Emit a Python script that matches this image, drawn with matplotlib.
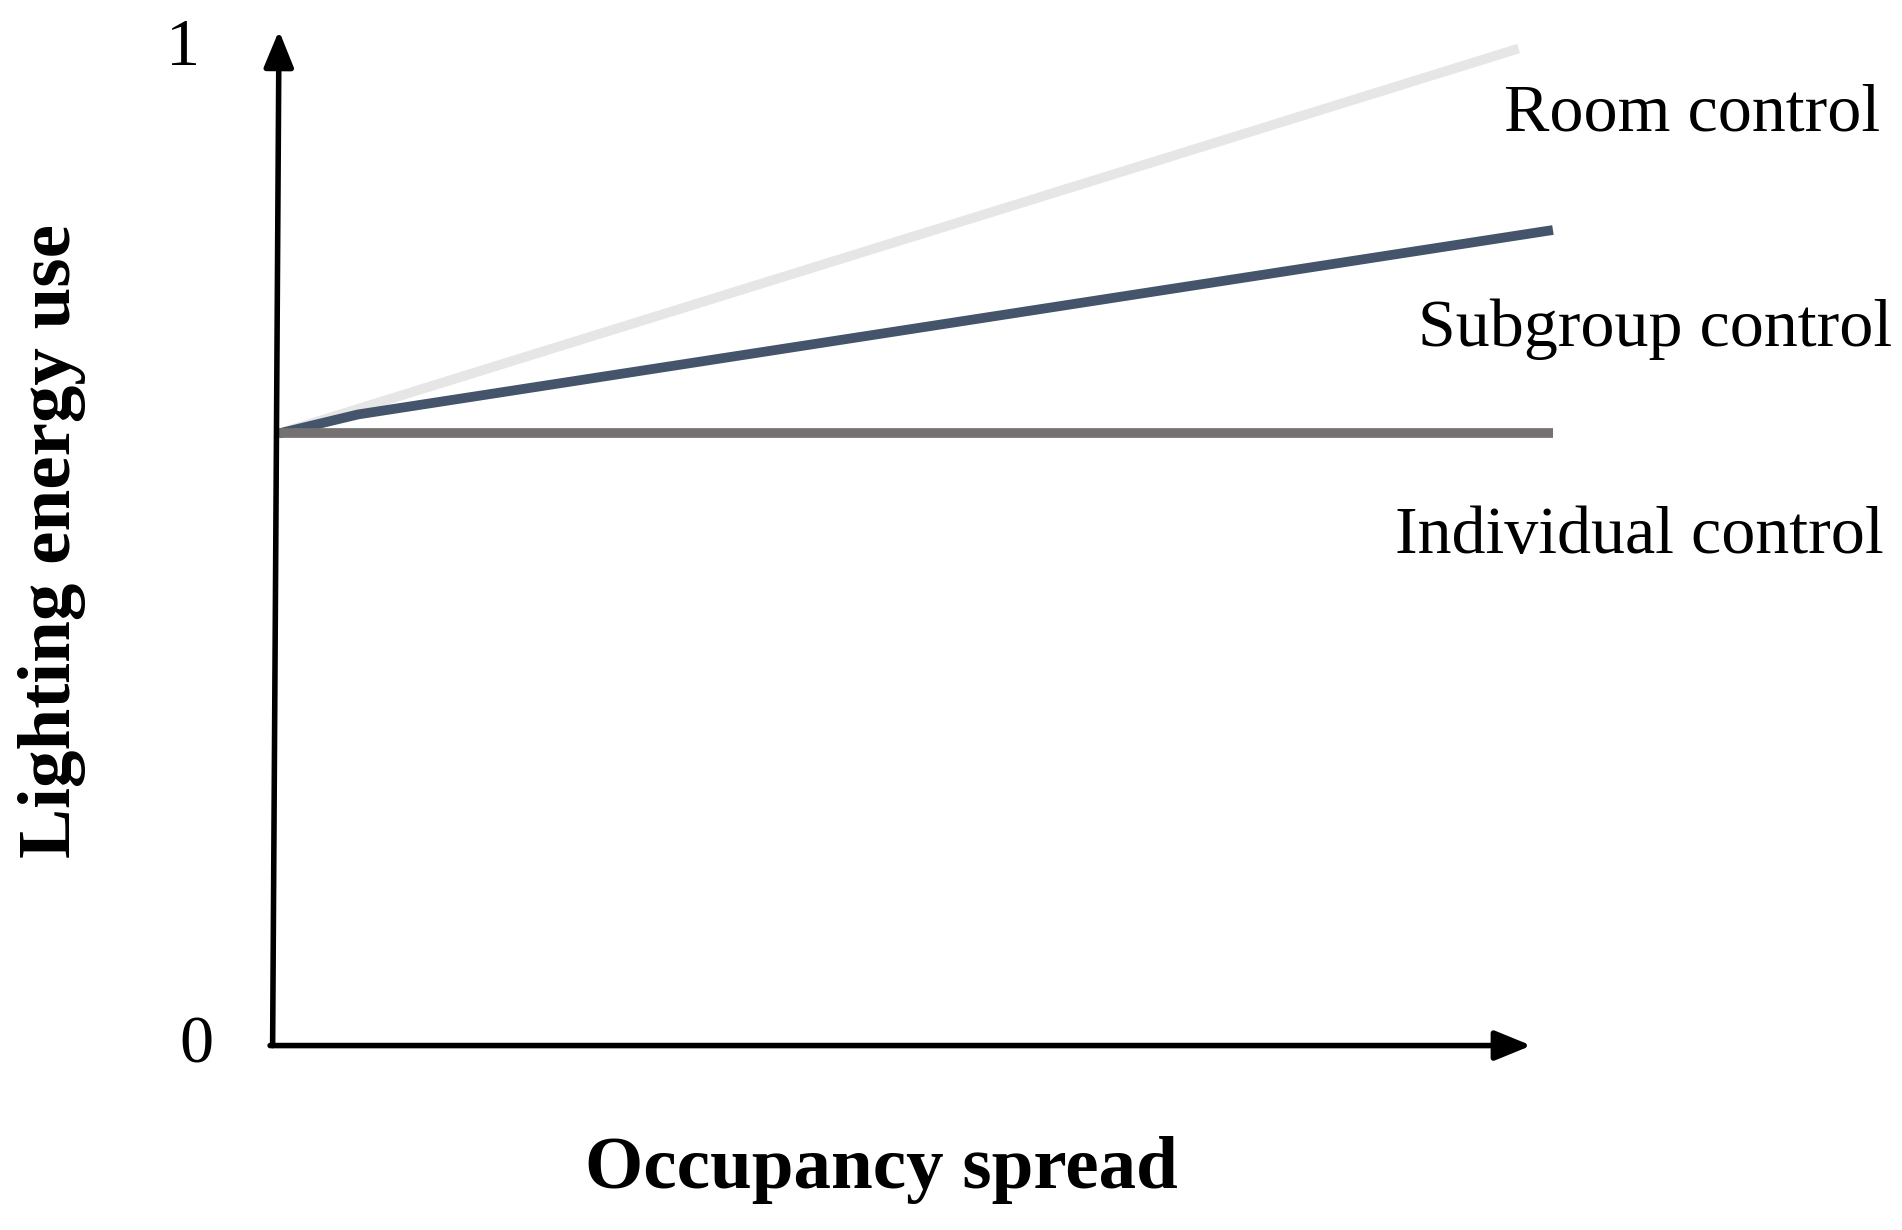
import matplotlib
matplotlib.use("Agg")
import matplotlib.pyplot as plt

# data (normalised: x = occupancy spread 0..1, y = lighting energy use 0..1)
individual_x = [0.0, 1.0]
individual_y = [0.614, 0.614]
subgroup_x = [0.0, 0.062, 1.0]
subgroup_y = [0.614, 0.633, 0.818]
room_x = [0.0, 0.973]
room_y = [0.614, 1.0]
labels = ["Room control", "Subgroup control", "Individual control"]

plt.rcParams['font.family'] = ['Liberation Serif', 'DejaVu Serif']
fig = plt.figure(figsize=(19.02, 12.30), dpi=100)
ax = fig.add_axes([0, 0, 1, 1])
ax.set_xlim(-0.219, 1.274)
ax.set_ylim(-0.185, 1.0487)
ax.axis('off')

ax.plot(room_x, room_y, color='#e6e6e6', lw=7, solid_capstyle='butt')
ax.plot(subgroup_x, subgroup_y, color='#44546a', lw=7, solid_capstyle='butt')
ax.plot(individual_x, individual_y, color='#767171', lw=7, solid_capstyle='butt')

arrow = dict(arrowstyle='-|>,head_length=2.2,head_width=0.9', color='black', lw=4, shrinkA=0, shrinkB=0)
ax.annotate('', xy=(0.0, 1.018), xytext=(-0.005, 0.0), arrowprops=arrow)
ax.annotate('', xy=(0.983, 0.0), xytext=(-0.007, 0.0), arrowprops=arrow)

ax.text(-0.075, 1.0, '1', fontsize=49, ha='center', va='center')
ax.text(-0.065, 0.0, '0', fontsize=49, ha='center', va='center')

ax.text(1.257, 0.934, labels[0], fontsize=49, ha='right', va='center')
ax.text(1.266, 0.718, labels[1], fontsize=49, ha='right', va='center')
ax.text(1.260, 0.511, labels[2], fontsize=49, ha='right', va='center')

ax.text(0.473, -0.125, 'Occupancy spread', fontsize=54, fontweight='bold', ha='center', va='center')
ax.text(-0.178, 0.506, 'Lighting energy use', fontsize=54, fontweight='bold', ha='center', va='center', rotation=90)

fig.savefig('out.png', dpi=100)
